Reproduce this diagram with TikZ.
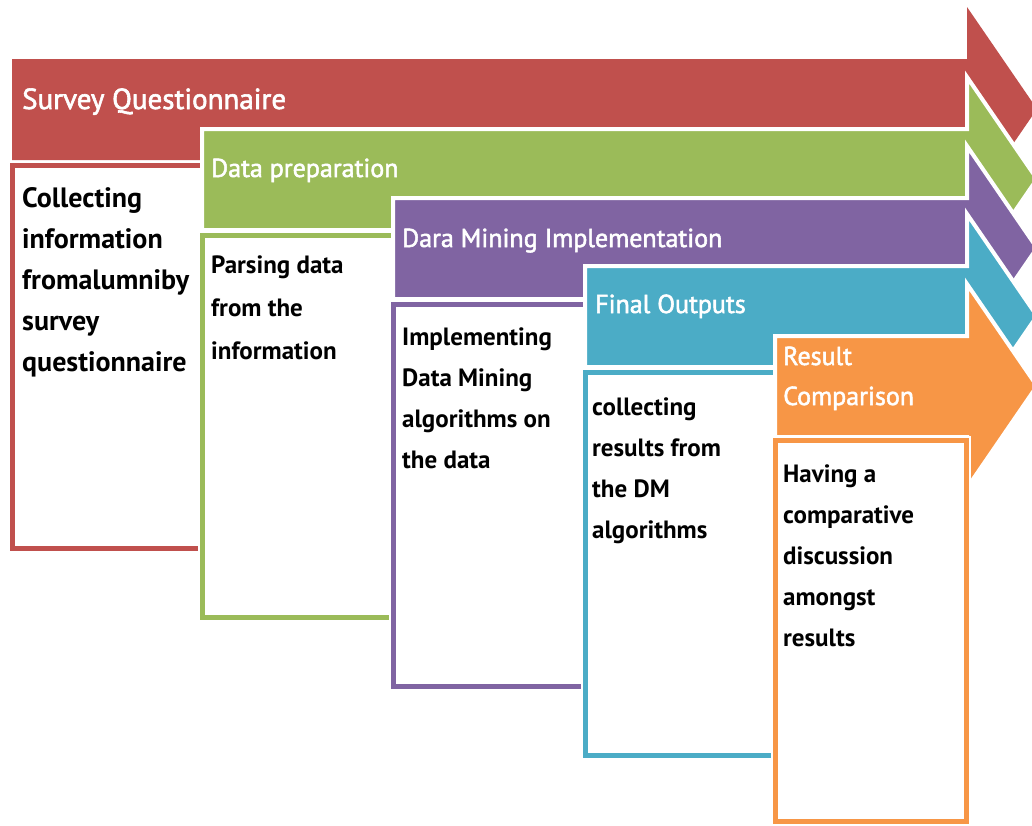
\documentclass[tikz,border=0pt]{standalone}
\usepackage{fontspec}
\setmainfont{PT Sans}
\newfontfamily\headfont{PT Sans}[FakeBold=2]

\definecolor{surveyred}{HTML}{C0504D}
\definecolor{prepgreen}{HTML}{9BBB59}
\definecolor{miningpurple}{HTML}{8064A2}
\definecolor{outputteal}{HTML}{4BACC6}
\definecolor{compareorange}{HTML}{F79646}

% shaft from (left, top) to the head, head ends in a point on the right
\newcommand{\stagepath}[2]{(#1,#2) -- (967,#2) -- (967,#2-52) -- (1037,#2+50)
  -- (967,#2+152) -- (967,#2+101) -- (#1,#2+101) -- cycle}

\begin{document}
\begin{tikzpicture}[x=1pt, y=-1pt,
    stagearrow/.style={draw=white, line width=4pt, line join=miter},
    stagebox/.style={fill=white, draw=white, line width=2pt, double distance=5pt},
    % multi-line nodes sit on the baseline of their last line
    heading/.style={anchor=base west, inner sep=0pt, text=white, align=left,
      font=\headfont\fontsize{26}{40}\selectfont},
    body/.style={anchor=base west, inner sep=0pt, align=left,
      font=\bfseries\fontsize{25}{41}\selectfont}]

    \clip (0,0) rectangle (1032,825);

    % Survey questionnaire (first one, nothing below it to outline against)
    \path[stagearrow, draw=none, fill=surveyred] \stagepath{12}{59};
    \draw[stagebox, double=surveyred] (12,165) rectangle (202,548);
    \node[heading, font=\headfont\fontsize{29}{40}\selectfont] (survey) at (22,109)
        {Survey Questionnaire};
    \node[body, font=\bfseries\fontsize{28}{41}\selectfont] (surveytext) at (22,371)
        {Collecting\\information\\fromalumniby\\survey\\questionnaire};

    % Data preparation
    \path[stagearrow, fill=prepgreen] \stagepath{202}{129};
    \draw[stagebox, double=prepgreen] (202,235) rectangle (393,617);
    \node[heading] (prep) at (211,177) {Data preparation};
    \node[body, font=\bfseries\fontsize{25}{43}\selectfont] (preptext) at (211,359)
        {Parsing data\\from the\\information};

    % Data mining
    \path[stagearrow, fill=miningpurple] \stagepath{393}{198};
    \draw[stagebox, double=miningpurple] (393,304) rectangle (585,686);
    \node[heading] (mining) at (402,247) {Dara Mining Implementation};
    \node[body] (miningtext) at (402,468)
        {Implementing\\Data Mining\\algorithms on\\the data};

    % Final outputs
    \path[stagearrow, fill=outputteal] \stagepath{585}{266};
    \draw[stagebox, double=outputteal] (585,372) rectangle (775,755);
    \node[heading] (outputs) at (595,313) {Final Outputs};
    \node[body] (outputstext) at (592,538)
        {collecting\\results from\\the DM\\algorithms};

    % Result comparison
    \path[stagearrow, fill=compareorange] \stagepath{775}{336};
    \draw[stagebox, double=compareorange] (775,440) rectangle (966,821);
    \node[heading] (compare) at (783,405) {Result\\Comparison};
    \node[body] (comparetext) at (783,646)
        {Having a\\comparative\\discussion\\amongst\\results};

\end{tikzpicture}
\end{document}
